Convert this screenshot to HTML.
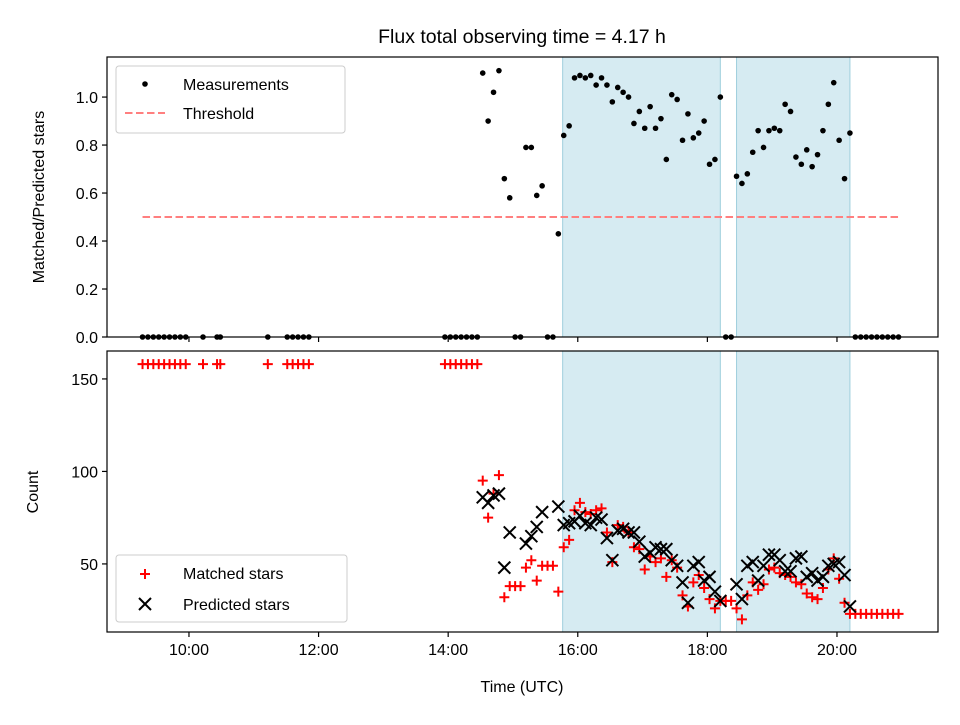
<!DOCTYPE html>
<html><head><meta charset="utf-8"><style>
body{margin:0;background:#fff}
svg{font-family:"Liberation Sans","DejaVu Sans",sans-serif}
</style></head><body>
<svg id="c" width="960" height="720" xmlns="http://www.w3.org/2000/svg"></svg>
<script>
const earlyTimes=["9:17","9:22","9:27","9:32","9:37","9:42","9:47","9:52","9:57","10:13","10:26","10:29","11:13","11:31","11:36","11:41","11:46","11:51","13:57","14:02","14:07","14:12","14:17","14:22","14:27"];
const earlyMatched=[158,158,158,158,158,158,158,158,158,158,158,158,158,158,158,158,158,158,158,158,158,158,158,158,158];
const earlyRatio=[0,0,0,0,0,0,0,0,0,0,0,0,0,0,0,0,0,0,0,0,0,0,0,0,0];
const gridStart="14:32";
const ratio=[1.10,0.90,1.02,1.11,0.66,0.58,0,0,0.79,0.79,0.59,0.63,0,0,0.43,0.84,0.88,1.08,1.09,1.08,1.09,1.05,1.08,1.05,0.98,1.04,1.02,1.00,0.89,0.94,0.87,0.96,0.87,0.91,0.74,1.01,0.99,0.82,0.93,0.83,0.85,0.90,0.72,0.74,1.00,0,0,0.67,0.64,0.68,0.77,0.86,0.79,0.86,0.87,0.86,0.97,0.94,0.75,0.72,0.78,0.71,0.76,0.86,0.97,1.06,0.82,0.66,0.85,0,0,0,0,0,0,0,0,0];
const matched=[95,75,88,98,32,38,38,38,48,52,41,49,49,49,35,59,63,79,83,78,77,79,80,67,51,71,70,67,59,58,47,54,51,53,43,52,48,33,27,40,44,37,31,26,30,30,30,26,20,33,40,36,39,47,48,45,44,43,40,39,34,32,31,37,47,53,42,29,23,23,23,23,23,23,23,23,23,23];
const predicted=[86,83,87,88,48,67,null,null,61,65,70,78,null,null,81,71,72,73,76,72,71,75,74,64,52,68,69,67,67,62,54,56,59,58,58,52,49,40,29,49,51,41,43,35,30,null,null,39,31,49,51,41,49,55,55,52,46,46,53,54,43,45,41,43,49,50,51,44,27,null,null,null,null,null,null,null,null,null];
const spans=[["15:46","18:12"],["18:27","20:12"]];
const xTicks=["10:00","12:00","14:00","16:00","18:00","20:00"];
const topTicks=[0.0,0.2,0.4,0.6,0.8,1.0];
const botTicks=[50,100,150];
const threshold=0.5;

const NS="http://www.w3.org/2000/svg";
const svg=document.getElementById('c');
function h(t){const p=t.split(':');return +p[0]+p[1]/60;}
function mk(tag,at,parent){const e=document.createElementNS(NS,tag);for(const k in at)e.setAttribute(k,at[k]);(parent||svg).appendChild(e);return e;}
const L=107,R=938,T1=57,B1=337,T2=351,B2=632;
const X0=8.735,X1=21.559;
const xs=t=>L+(t-X0)/(X1-X0)*(R-L);
const y1=v=>B1-(v-0)/(1.167-0)*(B1-T1);
const y2=v=>B2-(v-13.2)/(165.1-13.2)*(B2-T2);
const gridTimes=ratio.map((_,k)=>h(gridStart)+k*5/60);

function panel(T,B,name){
  const g=mk('g',{});
  
  
  spans.forEach(s=>{const r=mk('rect',{x:xs(h(s[0])),y:T,width:xs(h(s[1]))-xs(h(s[0])),height:B-T,fill:'#add8e6','fill-opacity':0.5,stroke:'#9fcfdd','stroke-width':1},g);
    });
  return g;
}
const g1=panel(T1,B1,'ratio-panel');
const g2=panel(T2,B2,'count-panel');
// threshold
const thr=mk('line',{x1:xs(h(earlyTimes[0])),x2:xs(gridTimes[gridTimes.length-1]),y1:y1(threshold),y2:y1(threshold),stroke:'#ff7f7f','stroke-width':2,'stroke-dasharray':'7.5,3.5'},g1);

// dots
const allT=earlyTimes.map(h).concat(gridTimes), allR=earlyRatio.concat(ratio);
allT.forEach((t,i)=>{const c=mk('circle',{cx:xs(t),cy:y1(allR[i]),r:2.8,fill:'#000'},g1);
  });
// bottom
const allM=earlyMatched.concat(matched);
function plus(x,y){const p=mk('path',{d:`M${x-5},${y}H${x+5}M${x},${y-5}V${y+5}`,stroke:'#f00','stroke-width':2,fill:'none'},g2);
  }
function cross(x,y){const p=mk('path',{d:`M${x-6},${y-6}L${x+6},${y+6}M${x-6},${y+6}L${x+6},${y-6}`,stroke:'#000','stroke-width':2,fill:'none'},g2);
  }
allT.forEach((t,i)=>plus(xs(t),y2(allM[i])));
gridTimes.forEach((t,i)=>{if(predicted[i]!=null)cross(xs(t),y2(predicted[i]));});
// frames and ticks
function frame(T,B,name){const r=mk('rect',{x:L,y:T,width:R-L,height:B-T,fill:'none',stroke:'#000','stroke-width':1.2});
  }
frame(T1,B1,'top-axes-frame');frame(T2,B2,'bottom-axes-frame');
function txt(x,y,s,at,name){const e=mk('text',Object.assign({x:x,y:y,'font-size':16,fill:'#000'},at||{}));e.textContent=s;
  return e;}
xTicks.forEach(s=>{const x=xs(h(s));mk('line',{x1:x,x2:x,y1:B1,y2:B1+5,stroke:'#000','stroke-width':1.2});
  mk('line',{x1:x,x2:x,y1:B2,y2:B2+5,stroke:'#000','stroke-width':1.2});
  txt(x,655,s,{'text-anchor':'middle'},'x-tick-label');});
topTicks.forEach(v=>{const y=y1(v);mk('line',{x1:L-5,x2:L,y1:y,y2:y,stroke:'#000','stroke-width':1.2});
  txt(L-9,y+6,v.toFixed(1),{'text-anchor':'end'},'top-y-tick-label');});
botTicks.forEach(v=>{const y=y2(v);mk('line',{x1:L-5,x2:L,y1:y,y2:y,stroke:'#000','stroke-width':1.2});
  txt(L-9,y+6,String(v),{'text-anchor':'end'},'bottom-y-tick-label');});
txt(522,43,'Flux total observing time = 4.17 h',{'text-anchor':'middle','font-size':19.5},'chart-title');
txt(522,692,'Time (UTC)',{'text-anchor':'middle'},'x-axis-title');
txt(0,0,'Matched/Predicted stars',{'text-anchor':'middle',transform:'translate(44,197) rotate(-90)'},'top-y-axis-title');
txt(0,0,'Count',{'text-anchor':'middle',transform:'translate(38,492) rotate(-90)'},'bottom-y-axis-title');
// legends
function legBox(x,y,w,hh,name){const r=mk('rect',{x:x,y:y,width:w,height:hh,rx:3,fill:'#fff','fill-opacity':0.8,stroke:'#ccc','stroke-width':1});
  }
legBox(116,66,229,67,'top-legend');
mk('circle',{cx:145,cy:84,r:2.8,fill:'#000'});
txt(183,90,'Measurements',{},'legend-entry-measurements');
mk('line',{x1:125,x2:165,y1:113,y2:113,stroke:'#ff7f7f','stroke-width':2,'stroke-dasharray':'7.5,3.5'});
txt(183,119,'Threshold',{},'legend-entry-threshold');
legBox(116,555,231,67,'bottom-legend');
mk('path',{d:'M140,574H150M145,569V579',stroke:'#f00','stroke-width':2});
txt(183,579,'Matched stars',{},'legend-entry-matched');
mk('path',{d:'M139,598L151,610M139,610L151,598',stroke:'#000','stroke-width':2});
txt(183,610,'Predicted stars',{},'legend-entry-predicted');
</script>
</body></html>
